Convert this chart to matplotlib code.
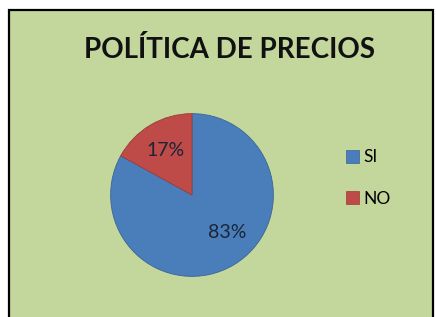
import matplotlib.pyplot as plt
from matplotlib.patches import Rectangle

# Chart data
labels = ["SI", "NO"]
shares = [83, 17]
colors = ["#4A7EBB", "#BE4B48"]

BG = "#C3D69B"

fig = plt.figure(figsize=(4.36, 3.17), dpi=100)
fig.patch.set_facecolor("white")

# Green chart area with a black frame (cut off at the bottom)
frame = Rectangle((9 / 436, -0.05), 424 / 436, (307 / 317) + 0.05,
                  transform=fig.transFigure, facecolor=BG,
                  edgecolor="black", linewidth=1.6, zorder=-1)
fig.patches.append(frame)

fig.text(229 / 436, 1 - 50 / 317, "POLÍTICA DE PRECIOS", ha="center",
         va="center", fontsize=20, fontweight="bold", family="Lato",
         color="#111111")

# Pie centred at about (192, 195) px, radius ~83 px
cx, cy, r = 192, 195, 83
ax = fig.add_axes([(cx - r) / 436, (317 - cy - r) / 317, 2 * r / 436, 2 * r / 317])
ax.patch.set_visible(False)
wedges, texts, autotexts = ax.pie(
    shares, colors=colors, startangle=90, counterclock=False,
    autopct="%1.0f%%", pctdistance=0.64,
    wedgeprops=dict(edgecolor="#3A6496", linewidth=0.6),
    textprops=dict(fontsize=14, family="Lato", color="#1C2538"))
wedges[1].set_edgecolor("#9B3B39")
# Excel puts the big slice's label a bit further right
autotexts[0].set_position((0.43, -0.46))
ax.set_xlim(-1.02, 1.02)
ax.set_ylim(-1.02, 1.02)
ax.set_aspect("equal")

leg = fig.legend(wedges, labels, loc="center left",
                 bbox_to_anchor=(330 / 436, 1 - 178 / 317), frameon=False,
                 prop=dict(family="Lato", size=12.5), handlelength=0.75,
                 handleheight=0.75, handletextpad=0.3, labelspacing=1.45)
for h in leg.legend_handles:
    h.set_linewidth(0.5)

fig.savefig("out.png", dpi=100, facecolor=fig.get_facecolor())
